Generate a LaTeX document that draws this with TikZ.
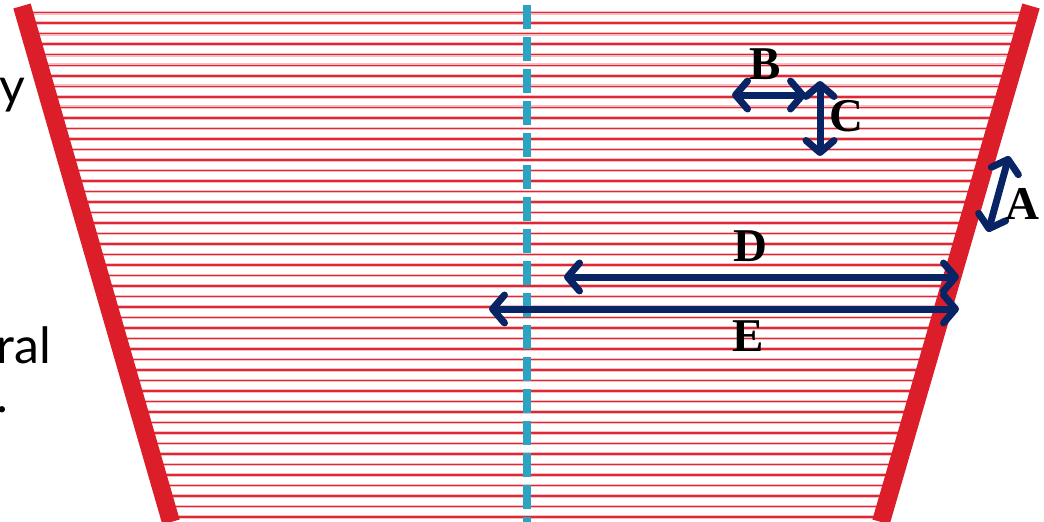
\documentclass[tikz,border=0pt]{standalone}
\usepackage{fontspec}
\setmainfont{Liberation Serif}
\newfontfamily\slidefont{Lato}
\newfontfamily\labelfont{Liberation Serif Bold}
\usetikzlibrary{arrows.meta}

\definecolor{wallred}{RGB}{220,30,42}
\definecolor{hatchred}{RGB}{224,40,52}
\definecolor{axisteal}{RGB}{45,163,196}
\definecolor{dimnavy}{RGB}{8,36,100}

\begin{document}
\begin{tikzpicture}[
  x=1pt, y=-1pt,
  dim/.style={draw=dimnavy, line width=7pt,
    {Straight Barb[round,length=12pt,width=28pt]}-{Straight Barb[round,length=12pt,width=28pt]}},
  lbl/.style={font=\labelfont\fontsize{47}{47}\selectfont, inner sep=0pt},
  cut/.style={font=\slidefont\fontsize{50}{50}\selectfont, inner sep=0pt, anchor=base east}
]
  \useasboundingbox (0,0) rectangle (1044,522);
  \clip (0,0) rectangle (1044,522);

  % hatching between the walls
  \foreach \i in {0,...,48} {
    \pgfmathsetmacro{\yy}{12.7+10.51*\i}
    \pgfmathsetmacro{\xl}{22+0.2891*(\yy-6)}
    \pgfmathsetmacro{\xr}{1031-0.2910*(\yy-6)}
    \draw[hatchred!30, line width=3.6pt] (\xl,\yy) -- (\xr,\yy);
    \draw[hatchred, line width=1.5pt] (\xl,\yy) -- (\xr,\yy);
  }

  % walls
  \draw[wallred, line width=18pt] (22,6) -- (171,522);
  \draw[wallred, line width=18pt] (1031,6) -- (881,522);

  % axis
  \draw[axisteal, line width=7.5pt, dash pattern=on 24pt off 8pt] (527,5) -- (527,530);

  % cut-off slide text
  \node[cut] (ty) at (25,103) {y};
  \node[cut] (tn) at (4,203) {n};
  \node[cut] (tral) at (51,363) {ral};
  \node[cut] (tdot) at (9,412) {.};

  % B
  \coordinate (B1) at (732,95);
  \coordinate (B2) at (806,95);
  \draw[dim] (B1) -- (B2);
  \node[lbl] (B) at (765,64) {B};
  % C
  \coordinate (C1) at (820,81);
  \coordinate (C2) at (820,156);
  \draw[dim] (C1) -- (C2);
  \node[lbl] (C) at (846,116) {C};
  % A
  \coordinate (A1) at (1009,156);
  \coordinate (A2) at (988,232);
  \draw[dim] (A1) -- (A2);
  \node[lbl] (A) at (1022,204) {A};
  % D
  \coordinate (D1) at (564,277);
  \coordinate (D2) at (959,277);
  \draw[dim] (D1) -- (D2);
  \node[lbl] (D) at (750,246) {D};
  % E
  \coordinate (E1) at (489,309);
  \coordinate (E2) at (959,309);
  \draw[dim] (E1) -- (E2);
  \node[lbl] (E) at (748,336) {E};
\end{tikzpicture}
\end{document}
